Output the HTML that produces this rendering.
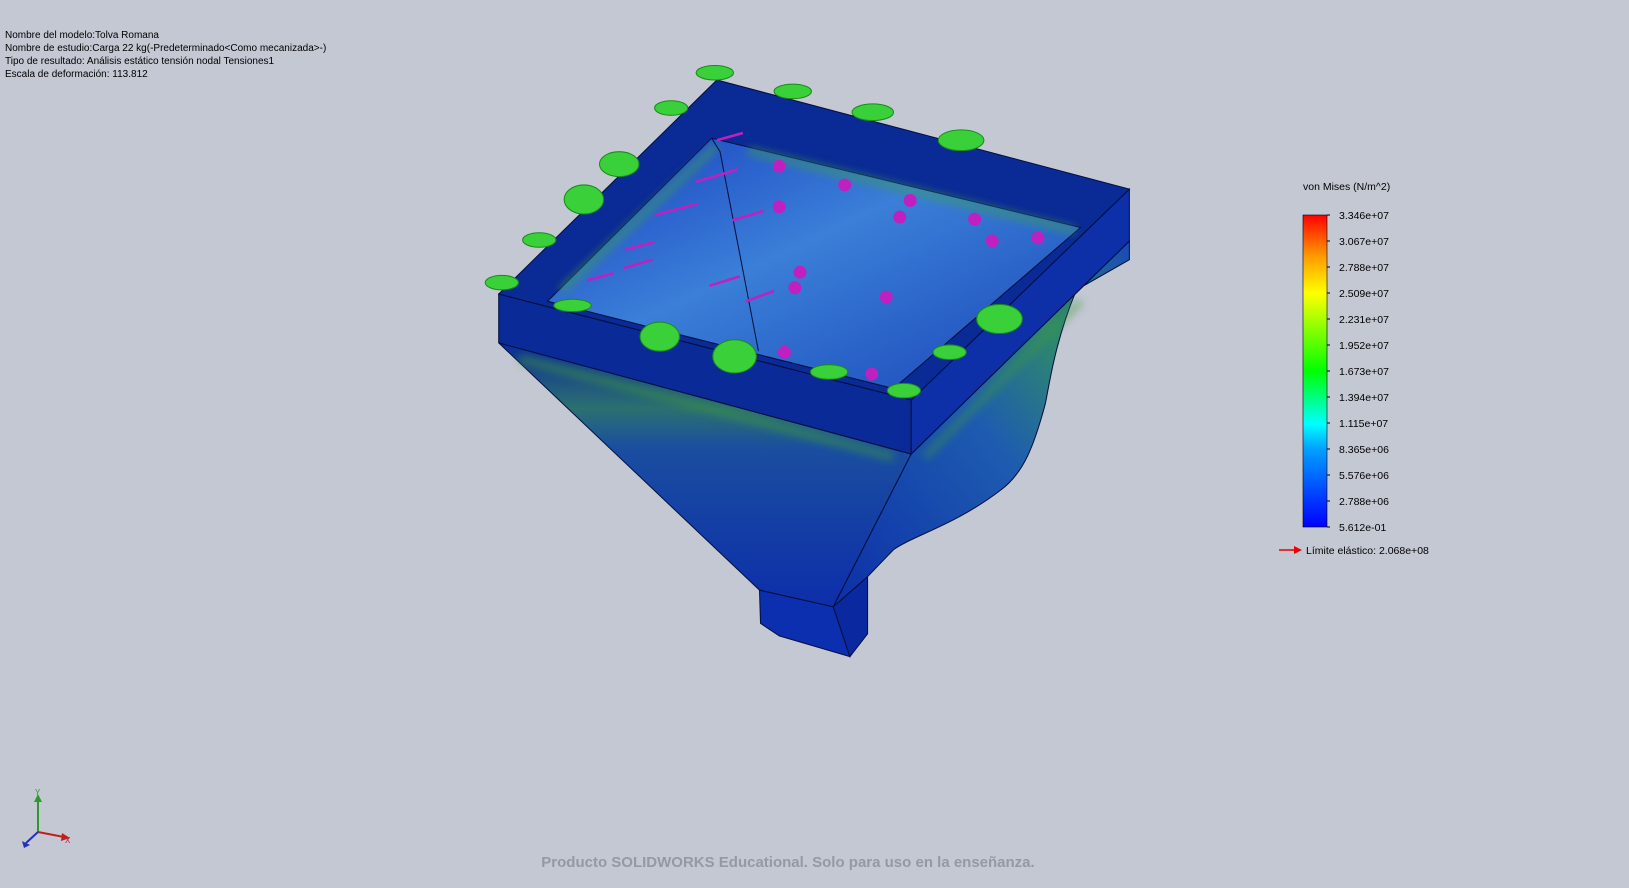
<!DOCTYPE html>
<html><head><meta charset="utf-8"><style>
html,body{margin:0;padding:0;background:#c4c8d3;}
svg{display:block}
text{font-family:"Liberation Sans",sans-serif;}
</style></head><body>
<svg width="1629" height="888" viewBox="0 0 1629 888">
<defs>
<linearGradient id="cb" x1="0" y1="1" x2="0" y2="0">
<stop offset="0" stop-color="#0000ff"/><stop offset="0.25" stop-color="#00a0ff"/><stop offset="0.33" stop-color="#00ffff"/><stop offset="0.5" stop-color="#00ff00"/><stop offset="0.75" stop-color="#ffff00"/><stop offset="0.87" stop-color="#ff9900"/><stop offset="1" stop-color="#ff0000"/>
</linearGradient>
<linearGradient id="inner" x1="0" y1="0" x2="1" y2="1">
<stop offset="0" stop-color="#1a3fc0"/><stop offset="0.45" stop-color="#3a7fd8"/><stop offset="1" stop-color="#1a45b8"/>
</linearGradient>
<linearGradient id="front" x1="0" y1="0" x2="0" y2="1">
<stop offset="0" stop-color="#0b2a9a"/><stop offset="0.25" stop-color="#2c7070"/><stop offset="0.4" stop-color="#1a4ea0"/><stop offset="1" stop-color="#0d2eaa"/>
</linearGradient>
<linearGradient id="right" x1="1" y1="0" x2="0" y2="1">
<stop offset="0" stop-color="#1848b8"/><stop offset="0.25" stop-color="#2f8a6a"/><stop offset="0.5" stop-color="#1e5cb0"/><stop offset="1" stop-color="#0c2fa8"/>
</linearGradient>
<filter id="bl"><feGaussianBlur stdDeviation="4"/></filter>
</defs>

<g font-size="10" fill="#000">
<text x="5" y="38">Nombre del modelo:Tolva Romana</text>
<text x="5" y="51">Nombre de estudio:Carga 22 kg(-Predeterminado&lt;Como mecanizada&gt;-)</text>
<text x="5" y="64">Tipo de resultado: Análisis estático tensión nodal Tensiones1</text>
<text x="5" y="77">Escala de deformación: 113.812</text>
</g>

<g transform="scale(1.039)">
<g stroke="#041040" stroke-width="1">
<path d="M731,568 L802,584 L818,632 L750,612 L732,600 Z" fill="#0c2fb0"/>
<path d="M802,584 L835,555 L835,610 L818,632 Z" fill="#0a28a0"/>
<path d="M480,330 L877,437 L802,584 L731,568 Z" fill="url(#front)"/>
<path d="M877,437 L1087,232 L1087,250 L1036,279 C1015,330 1010,370 1006,389 C995,430 985,455 964,471 C920,505 880,515 860,529 L835,555 L802,584 Z" fill="url(#right)"/>
<path d="M500,345 L860,440" stroke="#3c9a40" stroke-width="8" opacity="0.55" filter="url(#bl)" fill="none"/>
<path d="M890,440 L1040,290" stroke="#3c9a40" stroke-width="7" opacity="0.5" filter="url(#bl)" fill="none"/>
<path d="M480,283 L877,385 L877,437 L480,330 Z" fill="#0a2a98"/>
<path d="M877,385 L1087,182 L1087,232 L877,437 Z" fill="#0d2fa8"/>
<path d="M480,283 L690,77 L1087,182 L877,385 Z" fill="#0a2a95"/>
<path d="M527,290 L685,133 L1040,219 L860,374 Z" fill="url(#inner)"/>
<path d="M540,280 L690,140" stroke="#3aa050" stroke-width="7" opacity="0.6" filter="url(#bl)" fill="none"/>
<path d="M720,145 L1035,222" stroke="#3aa050" stroke-width="7" opacity="0.6" filter="url(#bl)" fill="none"/>
<path d="M685,133 L693,146 L730,338" fill="none"/>
</g>

<g stroke="#c020c0" stroke-width="2.5" fill="#c020c0">
<line x1="715" y1="128" x2="690" y2="135"/><line x1="670" y1="175" x2="710" y2="163"/><line x1="705" y1="212" x2="735" y2="203"/>
<line x1="630" y1="207" x2="672" y2="196"/><line x1="602" y1="240" x2="630" y2="233"/><line x1="600" y1="258" x2="628" y2="250"/>
<line x1="565" y1="270" x2="590" y2="263"/><line x1="683" y1="275" x2="712" y2="266"/><line x1="718" y1="290" x2="745" y2="280"/>
<circle cx="750" cy="160" r="5"/><circle cx="750" cy="199" r="5"/><circle cx="813" cy="178" r="5"/><circle cx="876" cy="193" r="5"/>
<circle cx="866" cy="209" r="5"/><circle cx="938" cy="211" r="5"/><circle cx="955" cy="232" r="5"/><circle cx="999" cy="229" r="5"/>
<circle cx="770" cy="262" r="5"/><circle cx="765" cy="277" r="5"/><circle cx="853" cy="286" r="5"/><circle cx="755" cy="339" r="5"/><circle cx="839" cy="360" r="5"/>
</g>

<g fill="#3ad03a" stroke="#1a8a1a" stroke-width="1">
<ellipse cx="688" cy="70" rx="18" ry="7"/><ellipse cx="763" cy="88" rx="18" ry="7"/><ellipse cx="840" cy="108" rx="20" ry="8"/>
<ellipse cx="925" cy="135" rx="22" ry="10"/><ellipse cx="646" cy="104" rx="16" ry="7"/><ellipse cx="596" cy="158" rx="19" ry="12"/>
<ellipse cx="562" cy="192" rx="19" ry="14"/><ellipse cx="519" cy="231" rx="16" ry="7"/><ellipse cx="483" cy="272" rx="16" ry="7"/>
<ellipse cx="551" cy="294" rx="18" ry="6"/><ellipse cx="635" cy="324" rx="19" ry="14"/><ellipse cx="707" cy="343" rx="21" ry="16"/>
<ellipse cx="798" cy="358" rx="18" ry="7"/><ellipse cx="870" cy="376" rx="16" ry="7"/><ellipse cx="914" cy="339" rx="16" ry="7"/>
<ellipse cx="962" cy="307" rx="22" ry="14"/>
</g>
</g>

<g>
<text x="1303" y="190" font-size="10.5" fill="#000">von Mises (N/m^2)</text>
<rect x="1303" y="215" width="24" height="312" fill="url(#cb)" stroke="#000" stroke-width="0.6"/>
<g id="ticks" font-size="10.5" fill="#000"></g>
<line x1="1279" y1="550" x2="1296" y2="550" stroke="#e00" stroke-width="1.5"/>
<path d="M1294,546 L1302,550 L1294,554 Z" fill="#e00"/>
<text x="1306" y="554" font-size="10.5" fill="#000">Límite elástico: 2.068e+08</text>
</g>

<g stroke-width="2">
<line x1="38" y1="832" x2="38" y2="800" stroke="#2a9a2a"/><path d="M34,802 L38,794 L42,802 Z" fill="#2a9a2a"/>
<line x1="38" y1="832" x2="64" y2="837" stroke="#c02020"/><path d="M62,833 L70,838 L61,841 Z" fill="#c02020"/>
<line x1="38" y1="832" x2="26" y2="843" stroke="#2030c0"/><path d="M22,841 L24,848 L30,845 Z" fill="#2030c0"/>
<text x="35" y="795" font-size="8" fill="#2a9a2a">Y</text><text x="65" y="843" font-size="8" fill="#c02020">X</text>
</g>

<text x="788" y="867" text-anchor="middle" font-size="15" font-weight="bold" fill="#9499a3">Producto SOLIDWORKS Educational. Solo para uso en la enseñanza.</text>
</svg>
<script>
const tickLabels=["3.346e+07","3.067e+07","2.788e+07","2.509e+07","2.231e+07","1.952e+07","1.673e+07","1.394e+07","1.115e+07","8.365e+06","5.576e+06","2.788e+06","5.612e-01"];
const g=document.getElementById('ticks');
const top0=215,h=312;
tickLabels.forEach((t,i)=>{
  const y=top0+h*i/(tickLabels.length-1);
  const tx=document.createElementNS('http://www.w3.org/2000/svg','text');
  
  
  tx.setAttribute('x',1339);tx.setAttribute('y',y+4);tx.textContent=t;g.appendChild(tx);
  const ln=document.createElementNS('http://www.w3.org/2000/svg','line');
  
  
  ln.setAttribute('x1',1327);ln.setAttribute('x2',1330);ln.setAttribute('y1',y);ln.setAttribute('y2',y);ln.setAttribute('stroke','#000');g.appendChild(ln);
});
</script>
</body></html>
